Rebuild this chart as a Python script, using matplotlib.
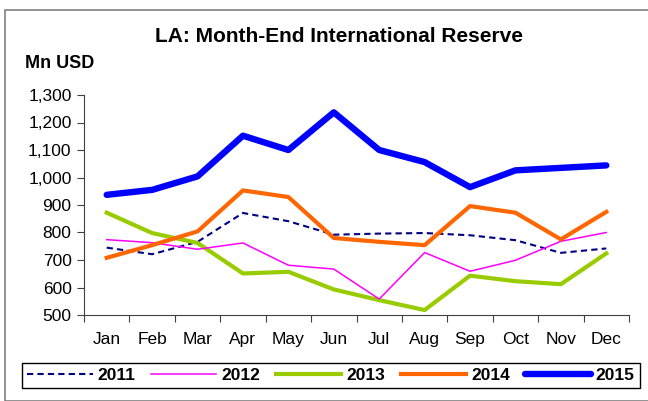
import matplotlib
matplotlib.use("Agg")
import matplotlib.pyplot as plt
from matplotlib.patches import Rectangle
from matplotlib.ticker import FuncFormatter, FixedLocator

plt.rcParams['font.family'] = ['Liberation Sans', 'DejaVu Sans']

months = ["Jan", "Feb", "Mar", "Apr", "May", "Jun", "Jul", "Aug", "Sep", "Oct", "Nov", "Dec"]
y2011 = [745, 721, 766, 871, 841, 792, 796, 798, 790, 772, 726, 742]
y2012 = [774, 763, 739, 762, 681, 667, 558, 727, 659, 699, 768, 800]
y2013 = [872, 798, 762, 651, 657, 593, 554, 518, 643, 623, 612, 724]
y2014 = [708, 754, 804, 953, 929, 780, 766, 754, 896, 872, 775, 875]
y2015 = [937, 955, 1004, 1152, 1100, 1237, 1100, 1056, 965, 1026, 1035, 1044]

fig = plt.figure(figsize=(6.48, 4.01), dpi=100)
W, H = 648, 401

# outer frame
fig.patches.append(Rectangle((4.5 / W, 0), 1, 1 - 9.5 / H, transform=fig.transFigure,
                             fill=False, edgecolor="#808080", linewidth=1.2))

ax = fig.add_axes([84 / W, 1 - 315 / H, (629 - 84) / W, (315 - 95) / H])
x = list(range(len(months)))

ax.plot(x, y2011, color="#000080", lw=1.5, ls=(0, (3, 2)), label="2011")
ax.plot(x, y2013, color="#99CC00", lw=3.0, label="2013")
ax.plot(x, y2012, color="#FF00FF", lw=1.1, label="2012")
ax.plot(x, y2014, color="#FF6600", lw=3.0, label="2014")
ax.plot(x, y2015, color="#0000FF", lw=4.6, label="2015", solid_capstyle="round")

ax.set_xlim(-0.5, 11.5)
ax.set_ylim(500, 1300)
ax.set_yticks(range(500, 1301, 100))
ax.yaxis.set_major_formatter(FuncFormatter(lambda v, p: f"{int(v):,}"))
ax.xaxis.set_major_locator(FixedLocator([i - 0.5 for i in range(13)]))
ax.xaxis.set_major_formatter(FuncFormatter(lambda v, p: ""))
ax.set_xticks(x, minor=True)
ax.set_xticklabels(months, minor=True)
ax.tick_params(axis="x", which="minor", length=0, pad=12, labelsize=12.5)
ax.tick_params(axis="x", which="major", length=5, direction="out", color="#404040")
ax.tick_params(axis="y", length=5, direction="out", labelsize=12.5, pad=4, color="#404040")
for s in ("top", "right"):
    ax.spines[s].set_visible(False)
for s in ("left", "bottom"):
    ax.spines[s].set_color("#404040")

fig.text(339 / W, 1 - 36 / H, "LA: Month-End International Reserve", ha="center", va="center",
         fontsize=15, fontweight="bold")
fig.text(25 / W, 1 - 63 / H, "Mn USD", ha="left", va="center", fontsize=13, fontweight="bold")

handles, labels = ax.get_legend_handles_labels()
order = [labels.index(s) for s in ["2011", "2012", "2013", "2014", "2015"]]
leg = fig.legend([handles[i] for i in order], [labels[i] for i in order],
                 loc="center", bbox_to_anchor=(331 / W, 1 - 375.5 / H), ncol=5,
                 frameon=True, fancybox=False, edgecolor="black", framealpha=1,
                 prop={"weight": "bold", "size": 12.5}, handlelength=3.75, handletextpad=0.3,
                 columnspacing=0.9, borderpad=0.3)
leg.get_frame().set_linewidth(1.0)

fig.savefig("out.png", dpi=100)
